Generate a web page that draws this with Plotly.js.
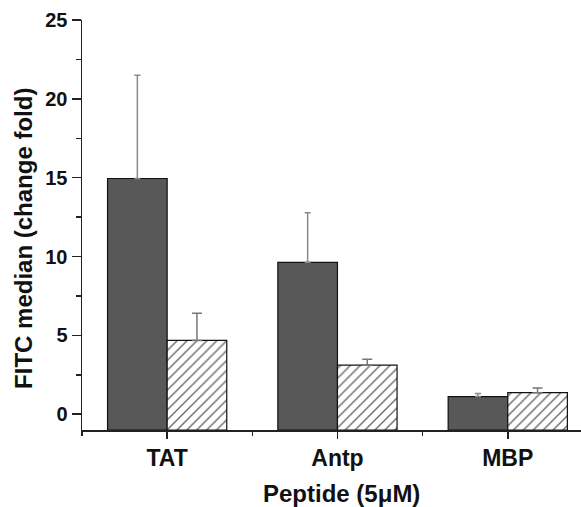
<!DOCTYPE html>
<html>
<head>
<meta charset="utf-8">
<script src="https://cdn.plot.ly/plotly-3.0.1.min.js"></script>
<style>html,body{margin:0;padding:0;background:#fff;}#chart{width:581px;height:507px;}</style>
</head>
<body>
<div id="chart"></div>
<script>
const categories = ["TAT", "Antp", "MBP"];
const solidValues = [14.95, 9.63, 1.12];
const solidErrors = [6.55, 3.15, 0.19];
const hatchedValues = [4.68, 3.11, 1.37];
const hatchedErrors = [1.72, 0.38, 0.3];
const yTicks = [0, 5, 10, 15, 20, 25];
const yMinorTicks = [2.5, 7.5, 12.5, 17.5, 22.5];
const xTitle = "Peptide (5μM)";
const yTitle = "FITC median (change fold)";

const axisFloor = -1;
const xIdx = categories.map((c, i) => i);
const fontFam = "Liberation Sans, Arial, Helvetica, sans-serif";

// bars drawn from the axis floor (-1) up to the value, as in the original figure
const traces = [
  {
    type: "bar", x: xIdx, base: axisFloor, y: solidValues.map(v => v - axisFloor), name: "solid",
    marker: {color: "#585858", line: {color: "#111", width: 1.2}},
    error_y: {type: "data", array: solidErrors, symmetric: false, arrayminus: [0,0,0],
              color: "#8a8a8a", thickness: 1.5, width: 3}
  },
  {
    type: "bar", x: xIdx, base: axisFloor, y: hatchedValues.map(v => v - axisFloor), name: "hatched",
    marker: {color: "#ffffff", line: {color: "#111", width: 1.2},
             pattern: {shape: "/", fgcolor: "#6a6a6a", bgcolor: "#ffffff", size: 7, solidity: 0.2}},
    error_y: {type: "data", array: hatchedErrors, symmetric: false, arrayminus: [0,0,0],
              color: "#777", thickness: 1.5, width: 5}
  }
];

const titleFont = {family: fontFam, size: 24, weight: "bold", color: "#111"};

const layout = {
  width: 581, height: 507,
  margin: {l: 82, r: 0, t: 20, b: 77},
  paper_bgcolor: "#fff", plot_bgcolor: "#fff",
  showlegend: false,
  barmode: "group", bargap: 0.3, bargroupgap: 0,
  font: {family: fontFam, color: "#111"},
  xaxis: {
    range: [-0.5, 2.43], tickmode: "array", tickvals: xIdx, ticktext: categories,
    showgrid: false, zeroline: false, showline: true, linecolor: "#222", linewidth: 1.5,
    ticks: "outside", ticklen: 7, tickwidth: 1.5, tickcolor: "#222",
    tickfont: {family: fontFam, size: 23, weight: "bold", color: "#111"},
    minor: {tickmode: "array", tickvals: [-0.5, 0.5, 1.5], ticks: "outside", ticklen: 4, tickwidth: 1.5, tickcolor: "#222", showgrid: false}
  },
  yaxis: {
    range: [axisFloor, 25], tickmode: "array", tickvals: yTicks,
    showgrid: false, zeroline: false, showline: true, linecolor: "#222", linewidth: 1.5,
    ticks: "outside", ticklen: 9, tickwidth: 1.5, tickcolor: "#222",
    tickfont: {family: fontFam, size: 20, weight: "bold", color: "#111"},
    minor: {tickmode: "array", tickvals: yMinorTicks, ticks: "outside", ticklen: 5, tickwidth: 1.5, tickcolor: "#222", showgrid: false}
  },
  annotations: [
    {text: xTitle, xref: "paper", yref: "paper", x: 0.52, y: -0.156, xanchor: "center", yanchor: "middle",
     showarrow: false, font: titleFont},
    {text: yTitle, xref: "paper", yref: "paper", x: 0, xshift: -58, y: 0.466, xanchor: "center", yanchor: "middle",
     textangle: -90, showarrow: false, font: titleFont}
  ]
};

Plotly.newPlot("chart", traces, layout, {staticPlot: true, displayModeBar: false});
</script>
</body>
</html>
